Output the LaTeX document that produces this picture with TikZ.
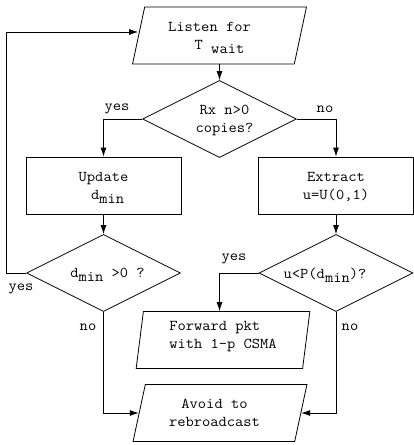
\documentclass[tikz,border=0pt]{standalone}
\usepackage{fontspec}
\setmonofont[FakeStretch=1.07]{Latin Modern Mono}
\usetikzlibrary{shapes.geometric,arrows.meta,calc}
% subscript set at full size, just lowered, without adding depth
\newcommand\lowsub[1]{\raisebox{-4pt}[0pt][0pt]{#1}}
\begin{document}
\begin{tikzpicture}[x=1pt,y=-1pt,
  every node/.style={font=\ttfamily\fontsize{15}{18}\selectfont, inner sep=0pt},
  block/.style={draw, line width=0.8pt, text depth=0pt},
  process/.style={block, rectangle, minimum width=155pt, minimum height=57pt},
  decision/.style={block, diamond, aspect=2, minimum width=154pt, minimum height=77pt},
  io/.style={block, trapezium, trapezium left angle=73, trapezium right angle=107,
             trapezium stretches=true, minimum width=174pt, minimum height=57pt},
  link/.style={line width=0.8pt, -{Latex[length=9pt,width=6pt]}}
]
\useasboundingbox (0,0) rectangle (413,445);

% blocks
\node[io, align=center] (listen) at (219.5,35.5) {Listen for\hspace*{20pt}\\T~\lowsub{wait}};
\node[decision, align=center] (rx) at (219.5,119) {\hspace*{10pt}Rx n>0\\\hspace*{10pt}copies?};
\node[process, align=center] (update) at (103.5,185.5) {Update\\\hspace*{8.4pt}d\lowsub{min}};
\node[process, align=center] (extract) at (336,185.5) {Extract\\u=U(0,1)};
\node[decision] (dpos) at (103.5,273) {\hspace*{8pt}d\lowsub{min} >0 ?};
\node[decision] (prob) at (336,273) {u<P(d\lowsub{min})?\hspace*{22pt}};
\node[io, align=left, text height=16pt] (forward) at (223,340)
  {\fontsize{15}{19}\selectfont Forward pkt\\with 1-p CSMA};
\node[io, align=center] (avoid) at (220,413) {Avoid to\hspace*{11pt}\\rebroadcast\hspace*{11pt}};

% connectors
\draw[link] (rx.north |- listen.south) -- (rx.north);
\draw[link] (rx.west) -| (update.north);
\draw[link] (rx.east) -| (extract.north);
\draw[link] (update.south) -- (dpos.north);
\draw[link] (extract.south) -- (prob.north);
\draw[link] (dpos.west) -- ++(-20,0) |- ([yshift=3.5pt]listen.west);
\draw[link] (prob.west) -| (rx.south |- forward.north);
\draw[link] (dpos.south) |- (avoid.west);
\draw[link] (prob.south) |- (avoid.east);

% branch labels
\node (yes1) at (117,109) {yes};
\node (no1) at (325,109) {no};
\node (yes2) at (21,289) {yes};
\node (yes3) at (234,259) {yes};
\node (no2) at (88,327) {no};
\node (no3) at (350,327) {no};
\end{tikzpicture}
\end{document}
